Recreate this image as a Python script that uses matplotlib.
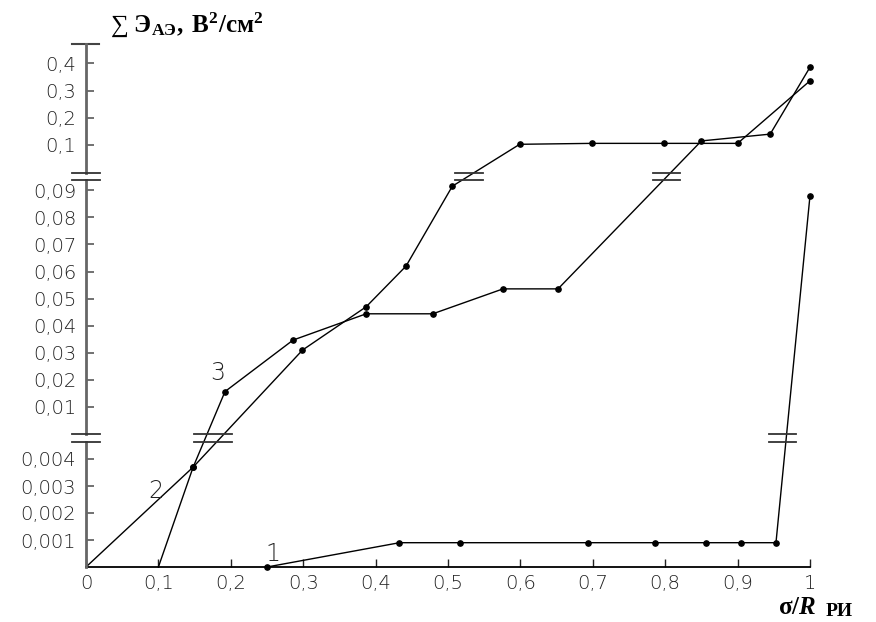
import numpy as np
import matplotlib
matplotlib.use('Agg')
import matplotlib.pyplot as plt

# curve 1
x1 = [0.25, 0.433, 0.516, 0.693, 0.786, 0.856, 0.905, 0.953, 1.0]
y1 = [0.0, 0.0009, 0.0009, 0.0009, 0.0009, 0.0009, 0.0009, 0.0009, 0.088]
# curve 2
x2 = [0.0, 0.148, 0.299, 0.387, 0.442, 0.506, 0.599, 0.699, 0.799, 0.900, 1.0]
y2 = [0.0, 0.0037, 0.031, 0.047, 0.062, 0.0915, 0.1026, 0.106, 0.106, 0.106, 0.336]
# curve 3
x3 = [0.1, 0.148, 0.192, 0.286, 0.387, 0.479, 0.576, 0.652, 0.850, 0.945, 1.0]
y3 = [0.0, 0.0037, 0.0157, 0.0347, 0.0444, 0.0444, 0.0536, 0.0536, 0.115, 0.140, 0.386]

xticks = [0, 0.1, 0.2, 0.3, 0.4, 0.5, 0.6, 0.7, 0.8, 0.9, 1.0]
xtick_labels = ['0', '0,1', '0,2', '0,3', '0,4', '0,5', '0,6', '0,7', '0,8', '0,9', '1']
yticks = [0.001, 0.002, 0.003, 0.004,
          0.01, 0.02, 0.03, 0.04, 0.05, 0.06, 0.07, 0.08, 0.09,
          0.1, 0.2, 0.3, 0.4]
ytick_labels = ['0,001', '0,002', '0,003', '0,004',
                '0,01', '0,02', '0,03', '0,04', '0,05', '0,06', '0,07', '0,08', '0,09',
                '0,1', '0,2', '0,3', '0,4']

# broken y axis: piecewise linear scale (value -> pixel height)
Y_KN = [0, 0.0046, 0.01, 0.0936, 0.1, 0.5]
P_KN = [0, 124.2, 160, 386.5, 422, 530.8]


def fwd(y):
    return np.interp(y, Y_KN, P_KN)


def inv(p):
    return np.interp(p, P_KN, Y_KN)


plt.rcParams['mathtext.fontset'] = 'custom'
plt.rcParams['mathtext.rm'] = 'Liberation Serif'
plt.rcParams['mathtext.bf'] = 'Liberation Serif:bold'
plt.rcParams['mathtext.it'] = 'Liberation Serif:italic'
plt.rcParams['mathtext.bfit'] = 'Liberation Serif:bold:italic'

fig = plt.figure(figsize=(8.76, 6.22), dpi=100)
ax = fig.add_axes([86 / 876, 55 / 622, 724 / 876, 523 / 622])
ax.set_yscale('function', functions=(fwd, inv))
ax.set_xlim(0, 1)
ax.set_ylim(0, inv(523))

for xs, ys, start in [(x1, y1, 0), (x2, y2, 1), (x3, y3, 1)]:
    ax.plot(xs, ys, color='black', lw=1.0, marker='o', ms=3.8,
            markevery=slice(start, None), clip_on=False, zorder=3)

lab_font = dict(family='DejaVu Sans', fontweight='light', color='#222222')
ax.set_xticks(xticks)
ax.set_xticklabels(xtick_labels, fontsize=14, **lab_font)
ax.set_yticks(yticks)
ax.set_yticklabels(ytick_labels, fontsize=14, **lab_font)
ax.yaxis.set_minor_locator(plt.NullLocator())
ax.tick_params(axis='x', direction='in', length=6, width=1.0, color='#222222', pad=5)
ax.tick_params(axis='y', direction='in', length=6, width=1.3, color='#666666', pad=7)

for s in ['top', 'right', 'left']:
    ax.spines[s].set_visible(False)
ax.spines['bottom'].set_linewidth(1.3)

# y axis drawn in pieces with gaps at the breaks
for p0, p1 in [(0, 124.7), (133, 386.7), (394.5, 523)]:
    ax.plot([0, 0], [inv(p0), inv(p1)], color='#666666', lw=2, clip_on=False, zorder=4)
ax.plot([-0.019, 0.018], [inv(523), inv(523)], color='#444444', lw=1.5, clip_on=False)

# break marks: (x centre, half width, lower line, upper line)
breaks = [(0.0, 0.019, 124.7, 133), (0.0, 0.019, 386.7, 394.5),
          (0.175, 0.026, 124.7, 133), (0.962, 0.019, 124.7, 133),
          (0.529, 0.019, 386.7, 394.5), (0.802, 0.019, 386.7, 394.5)]
for xc, hw, pa, pb in breaks:
    for p in (pa, pb):
        ax.plot([xc - hw, xc + hw], [inv(p), inv(p)], color='#333333', lw=1.3,
                clip_on=False, zorder=5)

# curve numbers
num_font = dict(family='DejaVu Sans', fontweight='light', color='#222222', fontsize=17,
                ha='center', va='center')
ax.text(0.258, 0.00048, '1', **num_font)
ax.text(0.097, 0.0028, '2', **num_font)
ax.text(0.182, 0.0226, '3', **num_font)

fig.text(110 / 876, 1 - 32 / 622,
         r'$∑\ \mathbf{Э}_{\mathbf{АЭ}}\mathbf{,\ В}^{\mathbf{2}}\mathbf{/см}^{\mathbf{2}}$',
         fontsize=18, ha='left', va='baseline')
fig.text(778 / 876, 1 - 614 / 622, r'$\mathbf{σ/}\mathbfit{R}$',
         fontsize=18, ha='left', va='baseline')
fig.text(826 / 876, 1 - 616 / 622, 'РИ', family='Liberation Serif', fontweight='bold',
         fontsize=14, ha='left', va='baseline')

plt.savefig('out.png', dpi=100)
